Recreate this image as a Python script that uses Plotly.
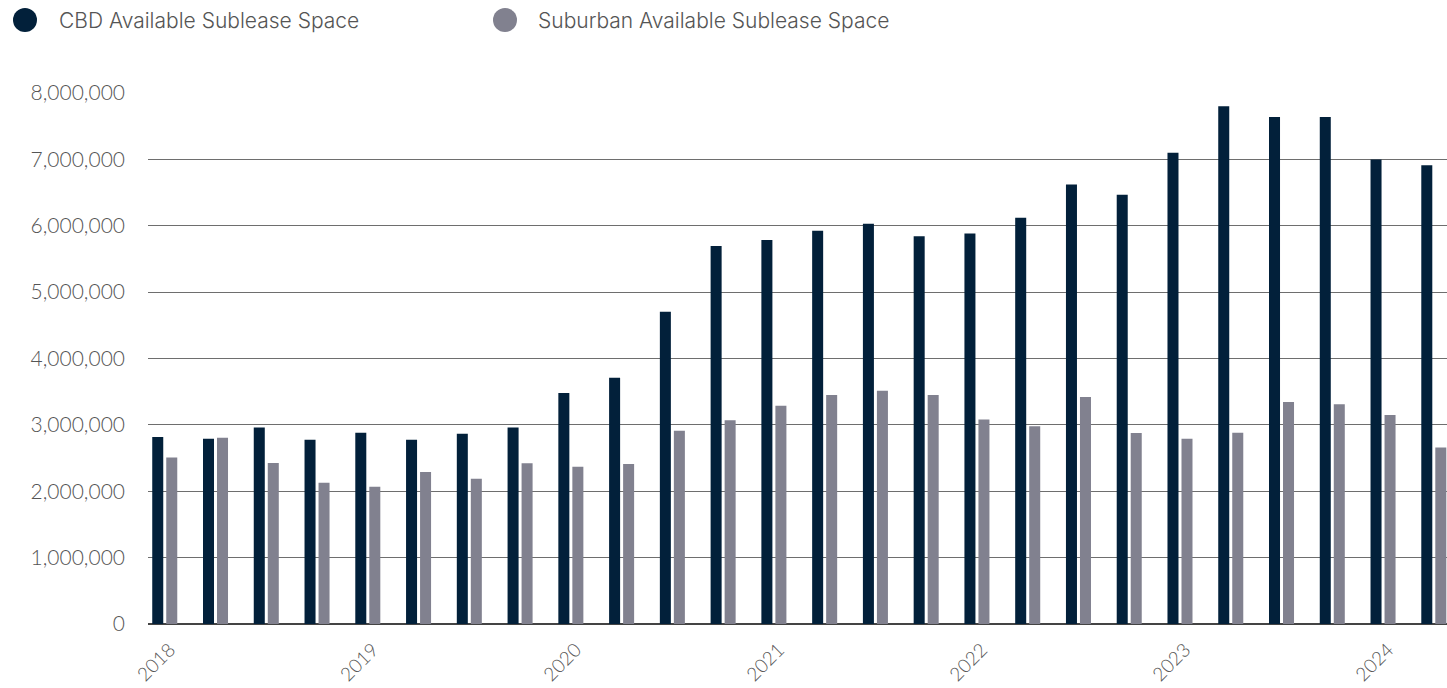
import plotly.graph_objects as go

# Quarterly sublease availability, Q1 2018 - Q2 2024 (square feet)
quarters = [f"{y} Q{q}" for y in range(2018, 2025) for q in range(1, 5)][:26]

cbd_space = [
    2817000, 2790000, 2962000, 2777000, 2882000, 2777000, 2867000, 2962000,
    3480000, 3710000, 4705000, 5695000, 5785000, 5925000, 6030000, 5840000,
    5885000, 6120000, 6620000, 6468000, 7100000, 7800000, 7640000, 7640000,
    7000000, 6910000,
]
suburban_space = [
    2510000, 2807000, 2425000, 2129000, 2069000, 2290000, 2189000, 2420000,
    2370000, 2410000, 2912000, 3068000, 3289000, 3450000, 3515000, 3450000,
    3080000, 2980000, 3420000, 2877000, 2790000, 2880000, 3345000, 3310000,
    3150000, 2660000,
]

year_ticks = [q for q in quarters if q.endswith("Q1")]
year_labels = [q.split()[0] for q in year_ticks]

series_names = ["CBD Available Sublease Space", "Suburban Available Sublease Space"]
series_colors = ["#02203a", "#81818f"]

W, H = 1447, 688
M_L, M_R, M_T, M_B = 148, 0, 93, 64
FONT = "Lato"
LEGEND_FONT = "Inter"
TEXT_COLOR = "#555555"

fig = go.Figure()
for name, vals, color in zip(series_names, [cbd_space, suburban_space], series_colors):
    fig.add_trace(go.Bar(
        x=quarters, y=vals, name=name,
        marker=dict(color=color, line=dict(width=0)),
        showlegend=False,
        hovertemplate="%{x}<br>%{y:,.0f}<extra>" + name + "</extra>",
    ))

# Custom legend with large round swatches above the plot
plot_w = W - M_L - M_R
plot_h = H - M_T - M_B


def px_to_paper_x(px):
    return (px - M_L) / plot_w


def px_to_paper_y(py):
    return (H - M_B - py) / plot_h


legend_items = [(25, 57), (505, 536)]
for (cx, tx), name, color in zip(legend_items, series_names, series_colors):
    fig.add_shape(
        type="circle", xref="paper", yref="paper",
        xsizemode="pixel", ysizemode="pixel",
        xanchor=px_to_paper_x(cx), yanchor=px_to_paper_y(20),
        x0=-12, x1=12, y0=-12, y1=12,
        fillcolor=color, line=dict(width=0),
    )
    fig.add_annotation(
        text=name, xref="paper", yref="paper",
        x=px_to_paper_x(tx), y=px_to_paper_y(21),
        xanchor="left", yanchor="middle", showarrow=False,
        font=dict(family=LEGEND_FONT, size=21, color=TEXT_COLOR, weight=300),
    )

fig.update_layout(
    width=W, height=H,
    margin=dict(l=M_L, r=M_R, t=M_T, b=M_B),
    paper_bgcolor="white", plot_bgcolor="white",
    barmode="group", bargap=0.448, bargroupgap=0.214,
    font=dict(family=FONT, size=20, color=TEXT_COLOR, weight=300),
    showlegend=False,
)
fig.update_xaxes(
    type="category", range=[-0.33, 25.26],
    tickmode="array", tickvals=year_ticks, ticktext=year_labels,
    tickangle=-45, ticks="", showgrid=False, showline=False, zeroline=False,
    ticklabelstandoff=10, ticklabelshift=5,
    tickfont=dict(family=FONT, size=19, color=TEXT_COLOR, weight=300),
)
fig.update_yaxes(
    range=[0, 8000000], tickvals=list(range(0, 8000001, 1000000)),
    tickformat=",d", showgrid=True, gridcolor="#6e6e6e", gridwidth=1,
    zeroline=True, zerolinecolor="#444444", zerolinewidth=1.5,
    showline=False, ticks="", ticklabelstandoff=22,
    tickfont=dict(family=FONT, size=21, color=TEXT_COLOR, weight=300),
)

fig.write_html("out.html")
